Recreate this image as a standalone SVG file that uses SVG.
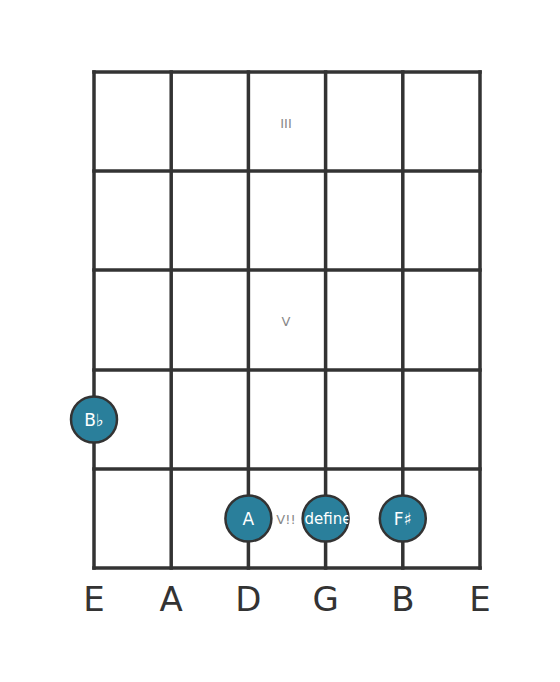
<svg xmlns="http://www.w3.org/2000/svg" width="560" height="682" viewBox="0 0 560 682">
<style>
.ln{stroke:#333;stroke-width:3.5;stroke-linecap:square}
.mk{font-family:"DejaVu Sans",sans-serif;font-size:13px;fill:#888;text-anchor:middle;dominant-baseline:central}
.dot{fill:#2a7f9b;stroke:#333;stroke-width:2.5}
.nt{font-family:"DejaVu Sans",sans-serif;font-size:17px;fill:#fff;text-anchor:middle;dominant-baseline:central}
.st{font-family:"DejaVu Sans",sans-serif;font-size:34px;fill:#333;text-anchor:middle}
</style>
<defs><clipPath id="cg"><circle cx="325.6" cy="518.5" r="23"/></clipPath></defs>
<rect width="560" height="682" fill="#fff"/>
<g id="grid">
<line class="ln" x1="94" y1="72" x2="480" y2="72"/>
<line class="ln" x1="94" y1="171" x2="480" y2="171"/>
<line class="ln" x1="94" y1="270" x2="480" y2="270"/>
<line class="ln" x1="94" y1="370" x2="480" y2="370"/>
<line class="ln" x1="94" y1="469" x2="480" y2="469"/>
<line class="ln" x1="94" y1="568" x2="480" y2="568"/>
<line class="ln" x1="94" y1="72" x2="94" y2="568"/>
<line class="ln" x1="171.2" y1="72" x2="171.2" y2="568"/>
<line class="ln" x1="248.4" y1="72" x2="248.4" y2="568"/>
<line class="ln" x1="325.6" y1="72" x2="325.6" y2="568"/>
<line class="ln" x1="402.8" y1="72" x2="402.8" y2="568"/>
<line class="ln" x1="480" y1="72" x2="480" y2="568"/>
</g>
<g id="markers">
<text class="mk" x="286" y="123">III</text>
<text class="mk" x="286" y="321">V</text>
<text class="mk" x="286" y="519">V!!</text>
</g>
<g id="note-bb"><circle class="dot" cx="94" cy="419.5" r="23"/><text class="nt" x="94" y="419.5">B♭</text></g>
<g id="note-a"><circle class="dot" cx="248.4" cy="518.5" r="23"/><text class="nt" x="248.4" y="518.5">A</text></g>
<g id="note-g"><circle class="dot" cx="325.6" cy="518.5" r="23"/><text class="nt" x="328" y="518.5" clip-path="url(#cg)" style="font-size:15px">define</text></g>
<g id="note-fs"><circle class="dot" cx="402.8" cy="518.5" r="23"/><text class="nt" x="402.8" y="518.5">F♯</text></g>
<g id="strings">
<text class="st" x="94" y="611">E</text>
<text class="st" x="171.2" y="611">A</text>
<text class="st" x="248.4" y="611">D</text>
<text class="st" x="325.6" y="611">G</text>
<text class="st" x="402.8" y="611">B</text>
<text class="st" x="480" y="611">E</text>
</g>
</svg>
